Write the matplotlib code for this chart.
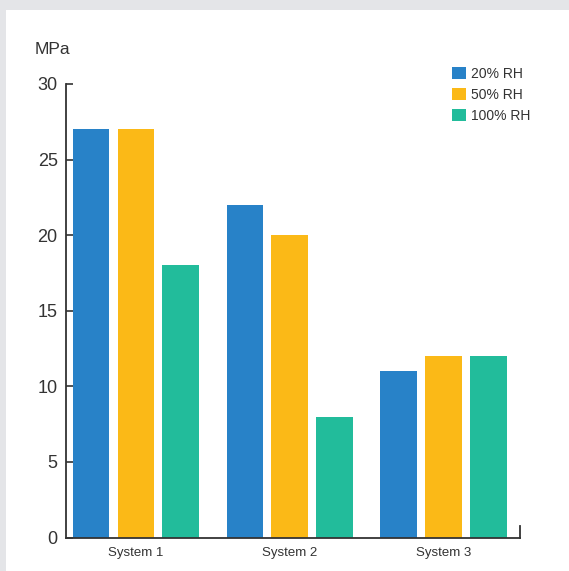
import matplotlib
matplotlib.use("Agg")
import matplotlib.pyplot as plt
from matplotlib.patches import Rectangle
import numpy as np

plt.rcParams["font.family"] = ["Liberation Sans", "DejaVu Sans"]

categories = ["System 1", "System 2", "System 3"]
series_names = ["20% RH", "50% RH", "100% RH"]
rh20 = [27, 22, 11]
rh50 = [27, 20, 12]
rh100 = [18, 8, 12]
yticks = [0, 5, 10, 15, 20, 25, 30]
colors = ["#2882c8", "#fbb917", "#22bc9b"]

W, H = 569, 571
fig = plt.figure(figsize=(W / 100, H / 100), dpi=100, facecolor="#e4e5e8")
fig.patches.append(Rectangle((6 / W, 0), 1 - 6 / W, 1 - 10 / H, transform=fig.transFigure,
                             facecolor="white", edgecolor="none", zorder=-10))

ax = fig.add_axes([66 / W, 1 - 537.5 / H, (520 - 66) / W, (537.5 - 84) / H])
ax.set_facecolor("none")

x = np.arange(len(categories))
width = 0.24
offset = 0.292
for i, (vals, name) in enumerate(zip([rh20, rh50, rh100], series_names)):
    ax.bar(x + (i - 1) * offset, vals, width, color=colors[i], label=name, zorder=2)

ax.set_ylim(0, 30)
ax.set_xlim(-0.4545, 2.494)
ax.set_yticks(yticks)
ax.set_yticklabels([str(t) for t in yticks], fontsize=13, color="#333333")
ax.tick_params(axis="y", direction="in", length=5, width=1.2, color="#333333", pad=6)
ax.set_xticks(x)
ax.set_xticklabels(categories, fontsize=9.5, color="#333333")
ax.tick_params(axis="x", length=0, pad=7)
for s in ["top", "right"]:
    ax.spines[s].set_visible(False)
for s in ["left", "bottom"]:
    ax.spines[s].set_color("#333333")
    ax.spines[s].set_linewidth(1.3)
# right-end tick on the x axis
ax.plot([1, 1], [0, 12 / 453.5], transform=ax.transAxes, color="#333333", lw=1.3,
        clip_on=False, solid_capstyle="projecting")

fig.text(35 / W, 1 - 49 / H, "MPa", fontsize=12.5, color="#333333", va="center", ha="left")

leg = ax.legend(loc="upper left", bbox_to_anchor=((452 - 66) / (520 - 66), 1 + (84 - 67) / 453.5),
                frameon=False, fontsize=10, handlelength=1.0, handleheight=1.0,
                handletextpad=0.4, labelspacing=0.5, borderaxespad=0, borderpad=0)
for t in leg.get_texts():
    t.set_color("#333333")

fig.savefig("out.png", dpi=100, facecolor=fig.get_facecolor())
